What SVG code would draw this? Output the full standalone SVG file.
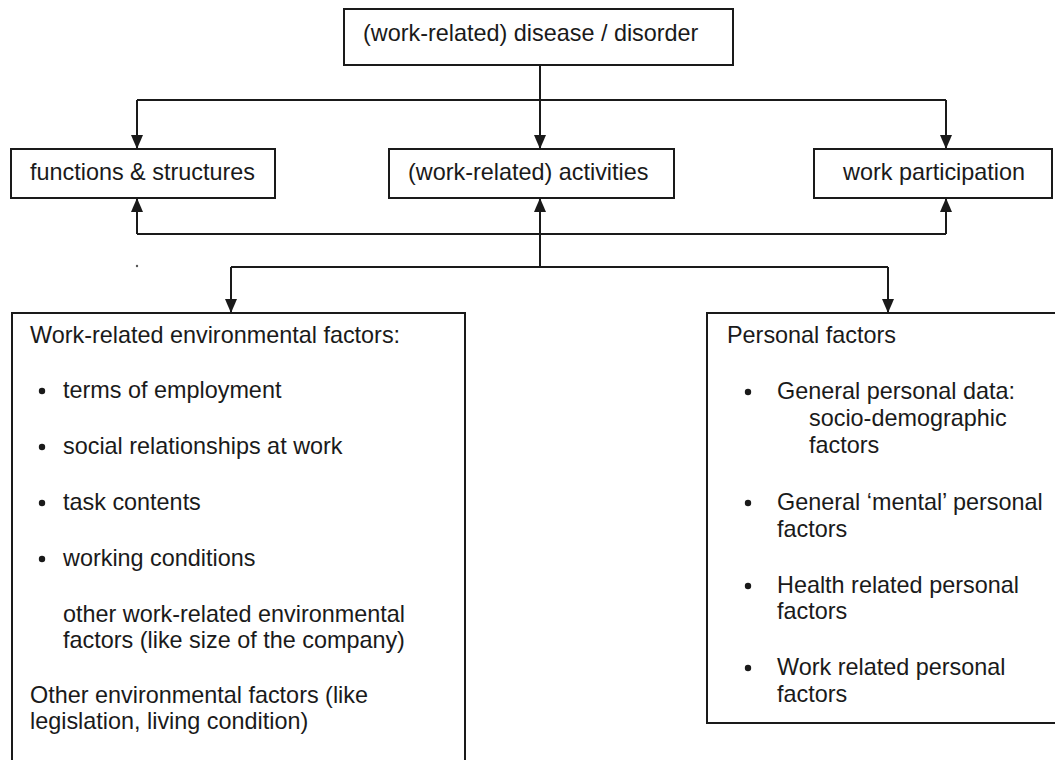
<svg xmlns="http://www.w3.org/2000/svg" width="1055" height="760" viewBox="0 0 1055 760">
<style>
.box{fill:#fff;stroke:#1a1a1a;stroke-width:2}
.t{font-family:"Liberation Sans",Arial,sans-serif;font-size:23.4px;fill:#1a1a1a}
.c{fill:none;stroke:#1a1a1a;stroke-width:2}
.b{fill:#1a1a1a}
</style>
<defs>
<marker id="ah" viewBox="0 0 14 12" refX="14" refY="6" markerWidth="14" markerHeight="12" markerUnits="userSpaceOnUse" orient="auto">
<path d="M0,0 L14,6 L0,12 Z" fill="#1a1a1a"/>
</marker>
</defs>
<rect width="1055" height="760" fill="#fff"/>
<g id="connectors">
<path class="c" d="M540,65 V149" marker-end="url(#ah)"/>
<path class="c" d="M137,100 H946"/>
<path class="c" d="M137,100 V149" marker-end="url(#ah)"/>
<path class="c" d="M946,100 V149" marker-end="url(#ah)"/>
<path class="c" d="M137,234 H946"/>
<path class="c" d="M137,234 V198" marker-end="url(#ah)"/>
<path class="c" d="M946,234 V198" marker-end="url(#ah)"/>
<path class="c" d="M540,267 V198" marker-end="url(#ah)"/>
<path class="c" d="M231,267 H888"/>
<path class="c" d="M231,267 V313" marker-end="url(#ah)"/>
<path class="c" d="M888,267 V313" marker-end="url(#ah)"/>
</g>
<g id="disease">
<rect class="box" x="344" y="9" width="389" height="56"/>
<text class="t" x="363" y="41">(work-related) disease / disorder</text>
</g>
<g id="functions">
<rect class="box" x="11" y="149" width="264" height="49"/>
<text class="t" x="30" y="180">functions &amp; structures</text>
</g>
<g id="activities">
<rect class="box" x="389" y="149" width="285" height="49"/>
<text class="t" x="408" y="180">(work-related) activities</text>
</g>
<g id="participation">
<rect class="box" x="814" y="149" width="238" height="49"/>
<text class="t" x="843" y="180">work participation</text>
</g>
<circle cx="137" cy="266" r="1.2" fill="#555"/>
<g id="environmental">
<rect class="box" x="12" y="313" width="453" height="460"/>
<text class="t" x="30" y="343">Work-related environmental factors:</text>
<circle class="b" cx="42" cy="391" r="3.2"/>
<text class="t" x="63" y="398">terms of employment</text>
<circle class="b" cx="42" cy="447" r="3.2"/>
<text class="t" x="63" y="454">social relationships at work</text>
<circle class="b" cx="42" cy="503" r="3.2"/>
<text class="t" x="63" y="510">task contents</text>
<circle class="b" cx="42" cy="559" r="3.2"/>
<text class="t" x="63" y="566">working conditions</text>
<text class="t" x="63" y="622">other work-related environmental</text>
<text class="t" x="63" y="648">factors (like size of the company)</text>
<text class="t" x="30" y="703">Other environmental factors (like</text>
<text class="t" x="30" y="729">legislation, living condition)</text>
</g>
<g id="personal">
<rect class="box" x="707" y="313" width="360" height="410"/>
<text class="t" x="727" y="343">Personal factors</text>
<circle class="b" cx="748" cy="392" r="3.2"/>
<text class="t" x="777" y="399">General personal data:</text>
<text class="t" x="809" y="426">socio-demographic</text>
<text class="t" x="809" y="453">factors</text>
<circle class="b" cx="748" cy="503" r="3.2"/>
<text class="t" x="777" y="510">General ‘mental’ personal</text>
<text class="t" x="777" y="537">factors</text>
<circle class="b" cx="748" cy="586" r="3.2"/>
<text class="t" x="777" y="593">Health related personal</text>
<text class="t" x="777" y="619">factors</text>
<circle class="b" cx="748" cy="668" r="3.2"/>
<text class="t" x="777" y="675">Work related personal</text>
<text class="t" x="777" y="702">factors</text>
</g>
</svg>
